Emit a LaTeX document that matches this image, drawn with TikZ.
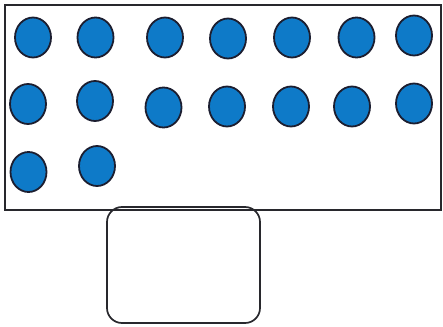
\documentclass[tikz,border=0pt]{standalone}
\usetikzlibrary{shapes.geometric}
\definecolor{dotblue}{RGB}{14,122,200}
\definecolor{dotline}{RGB}{28,30,48}
\definecolor{frameline}{RGB}{40,40,45}
\begin{document}
\begin{tikzpicture}[x=1pt,y=-1pt,
  dot/.style={ellipse,draw=dotline,line width=1.8pt,fill=dotblue,minimum width=36pt,minimum height=40pt,inner sep=0pt},
  frame/.style={draw=frameline,line width=1.6pt},
  tray/.style={draw=frameline,line width=1.7pt,rounded corners=15pt}]
\useasboundingbox[fill=white] (0,0) rectangle (443,326);
\node[frame,rectangle,minimum width=436pt,minimum height=205pt,inner sep=0pt] (box) at (223,107.5) {};
\node[tray,rectangle,minimum width=153pt,minimum height=116pt,inner sep=0pt] (tray) at (183.5,265) {};
% row 1
\node[dot] (a1) at (33,37.5) {};
\node[dot] (a2) at (95.5,37.5) {};
\node[dot] (a3) at (165,37.5) {};
\node[dot] (a4) at (228,38.5) {};
\node[dot] (a5) at (292,37.5) {};
\node[dot] (a6) at (356.5,37.5) {};
\node[dot] (a7) at (414,35.5) {};
% row 2
\node[dot] (b1) at (28,104) {};
\node[dot] (b2) at (95,101) {};
\node[dot] (b3) at (163.5,107.5) {};
\node[dot] (b4) at (227,106.5) {};
\node[dot] (b5) at (291,106.5) {};
\node[dot] (b6) at (352,106.5) {};
\node[dot] (b7) at (414,103.5) {};
% row 3
\node[dot] (c1) at (28.5,172) {};
\node[dot] (c2) at (97,166) {};
\end{tikzpicture}
\end{document}
